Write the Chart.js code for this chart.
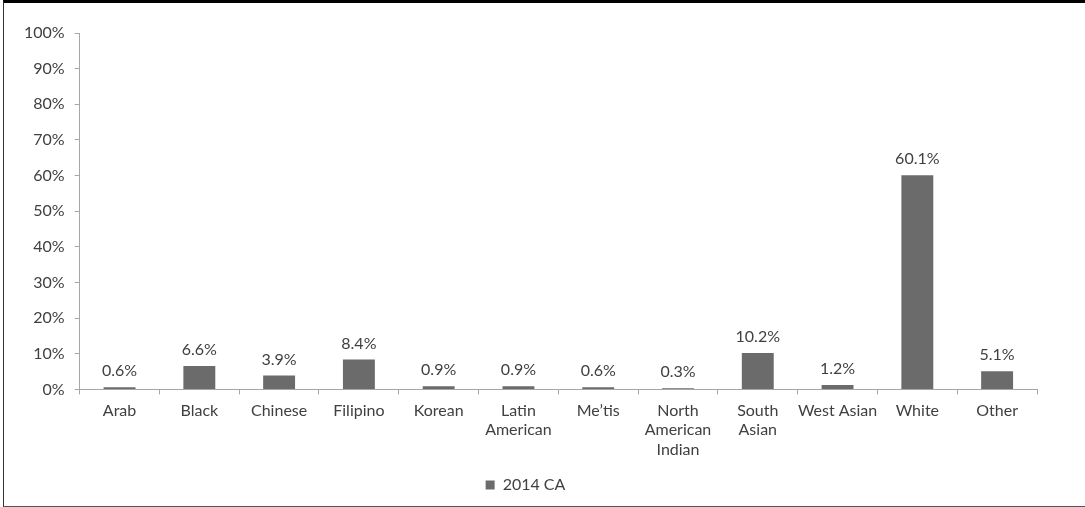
<!DOCTYPE html>
<html>
<head>
<meta charset="utf-8">
<script src="https://cdn.jsdelivr.net/npm/chart.js@4/dist/chart.umd.min.js"></script>
<style>
  html, body { margin: 0; padding: 0; background: #fff; }
  body { width: 1085px; height: 507px; overflow: hidden; position: relative; }
  #frame {
    position: absolute; left: 3px; top: 0; width: 1082px; height: 507px;
    border-top: 3px solid #000; border-left: 1px solid #333; border-bottom: 1px solid #555;
    box-sizing: border-box;
  }
  #wrap { position: absolute; left: 0; top: 0; width: 1081px; height: 503px; }
</style>
</head>
<body>
<div id="frame"><div id="wrap"><canvas id="chart"></canvas></div></div>
<script>
const categories = ['Arab', 'Black', 'Chinese', 'Filipino', 'Korean', ['Latin', 'American'], 'Me\u2019tis',
  ['North', 'American', 'Indian'], ['South', 'Asian'], 'West Asian', 'White', 'Other'];
const seriesName = '2014 CA';
const seriesValues = [0.6, 6.6, 3.9, 8.4, 0.9, 0.9, 0.6, 0.3, 10.2, 1.2, 60.1, 5.1];
const yTicks = [0, 10, 20, 30, 40, 50, 60, 70, 80, 90, 100];

const textColor = '#404040';
const axisColor = '#a6a6a6';
const barColor = '#6b6b6b';
const fontFamily = 'Lato, "Liberation Sans", sans-serif';
const fontSize = 16;

// draws the value above each bar, at the bar's own position
const valueLabels = {
  id: 'valueLabels',
  afterDatasetsDraw(chart) {
    const ctx = chart.ctx;
    ctx.save();
    ctx.font = fontSize + 'px ' + fontFamily;
    ctx.fillStyle = textColor;
    ctx.textAlign = 'center';
    ctx.textBaseline = 'bottom';
    chart.getDatasetMeta(0).data.forEach((bar, i) => {
      ctx.fillText(seriesValues[i].toFixed(1) + '%', bar.x, bar.y - 8);
    });
    ctx.restore();
  }
};

new Chart(document.getElementById('chart').getContext('2d'), {
  type: 'bar',
  data: {
    labels: categories,
    datasets: [{
      label: seriesName,
      data: seriesValues,
      backgroundColor: barColor,
      borderWidth: 0,
      categoryPercentage: 1,
      barPercentage: 0.4
    }]
  },
  options: {
    responsive: true,
    maintainAspectRatio: false,
    animation: false,
    layout: { padding: { top: 30, right: 48, left: 10, bottom: 3 } },
    plugins: {
      legend: {
        position: 'bottom',
        labels: {
          color: textColor,
          font: { size: fontSize, family: fontFamily },
          boxWidth: 9, boxHeight: 9, padding: 11
        }
      },
      tooltip: { enabled: false }
    },
    scales: {
      x: {
        grid: { display: true, drawOnChartArea: false, offset: true, tickLength: 5, color: axisColor },
        border: { display: true, color: axisColor, width: 1 },
        ticks: { color: textColor, font: { size: fontSize, family: fontFamily }, maxRotation: 0, autoSkip: false, padding: 7 }
      },
      y: {
        min: 0, max: 100,
        afterBuildTicks(axis) { axis.ticks = yTicks.map(v => ({ value: v })); },
        grid: { display: true, drawOnChartArea: false, tickLength: 5, color: axisColor },
        border: { display: true, color: axisColor, width: 1 },
        ticks: { color: textColor, font: { size: fontSize, family: fontFamily }, padding: 10, callback: v => v + '%' }
      }
    }
  },
  plugins: [valueLabels]
});
</script>
</body>
</html>
